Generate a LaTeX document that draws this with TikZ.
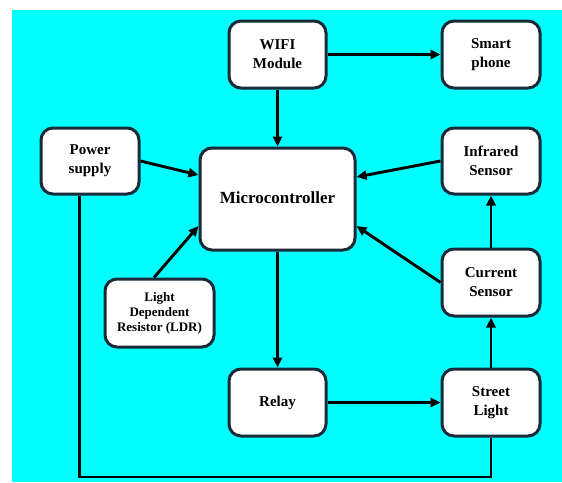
\documentclass[tikz,border=0pt]{standalone}
\usepackage{fontspec}
\setmainfont{Liberation Serif}
\usetikzlibrary{arrows.meta}
\definecolor{bg}{HTML}{00FFFF}
\definecolor{edge}{HTML}{1B2A38}
\begin{document}
\begin{tikzpicture}[x=1pt,y=-1pt,
  box/.style={draw=edge, line width=3pt, fill=white, rounded corners=12pt,
    inner sep=0pt, align=center, font=\fontsize{15}{19}\selectfont\bfseries},
  arr/.style={line width=2.9pt, -{Triangle[length=10pt,width=9pt]}},
  wire/.style={line width=2.9pt}]
\useasboundingbox (0,0) rectangle (562,482);
\fill[bg] (12.3,10.3) rectangle (562,482);
\node[box, minimum width=97pt, minimum height=67pt] (wifi) at (277.5,54.5) {WIFI\\Module};
\node[box, minimum width=98pt, minimum height=67pt] (phone) at (491,54.5) {Smart\\phone};
\node[box, minimum width=98pt, minimum height=66pt] (power) at (90,161) {Power\\supply};
\node[box, minimum width=155pt, minimum height=102pt, font=\fontsize{17}{20}\selectfont\bfseries] (micro) at (277.5,199) {\raisebox{2pt}{Microcontroller}};
\node[box, minimum width=98pt, minimum height=66pt] (ir) at (491,161) {Infrared\\Sensor};
\node[box, minimum width=98pt, minimum height=67pt] (cur) at (491,282.5) {Current\\Sensor};
\node[box, minimum width=109pt, minimum height=68pt, font=\fontsize{13}{15}\selectfont\bfseries] (ldr) at (159.5,313) {Light\\Dependent\\Resistor (LDR)};
\node[box, minimum width=97pt, minimum height=67pt] (relay) at (277.5,402.5) {Relay};
\node[box, minimum width=98pt, minimum height=67pt] (street) at (491,402.5) {Street\\Light};
\coordinate (bl) at (79.5,477);
\coordinate (br) at (491,477);
\draw[arr] (wifi.south) -- (wifi.south |- micro.north);
\draw[arr] (wifi.east) -- (phone.west);
\draw[arr] (power.east) -- ([yshift=24pt]micro.west);
\draw[arr] (ir.west) -- ([yshift=22pt]micro.east);
\draw[arr] (cur.west) -- ([yshift=-27pt]micro.east);
\draw[arr] ([xshift=-5.5pt]ldr.north) -- ([yshift=-27pt]micro.west);
\draw[arr] (micro.south) -- (micro.south |- relay.north);
\draw[arr] (relay.east) -- (street.west);
\draw[arr] (street.north) -- (cur.south);
\draw[arr] (cur.north) -- (ir.south);
\draw[wire] ([xshift=-10.5pt]power.south) -- (bl) -- (br) -- (street.south);
\end{tikzpicture}
\end{document}
